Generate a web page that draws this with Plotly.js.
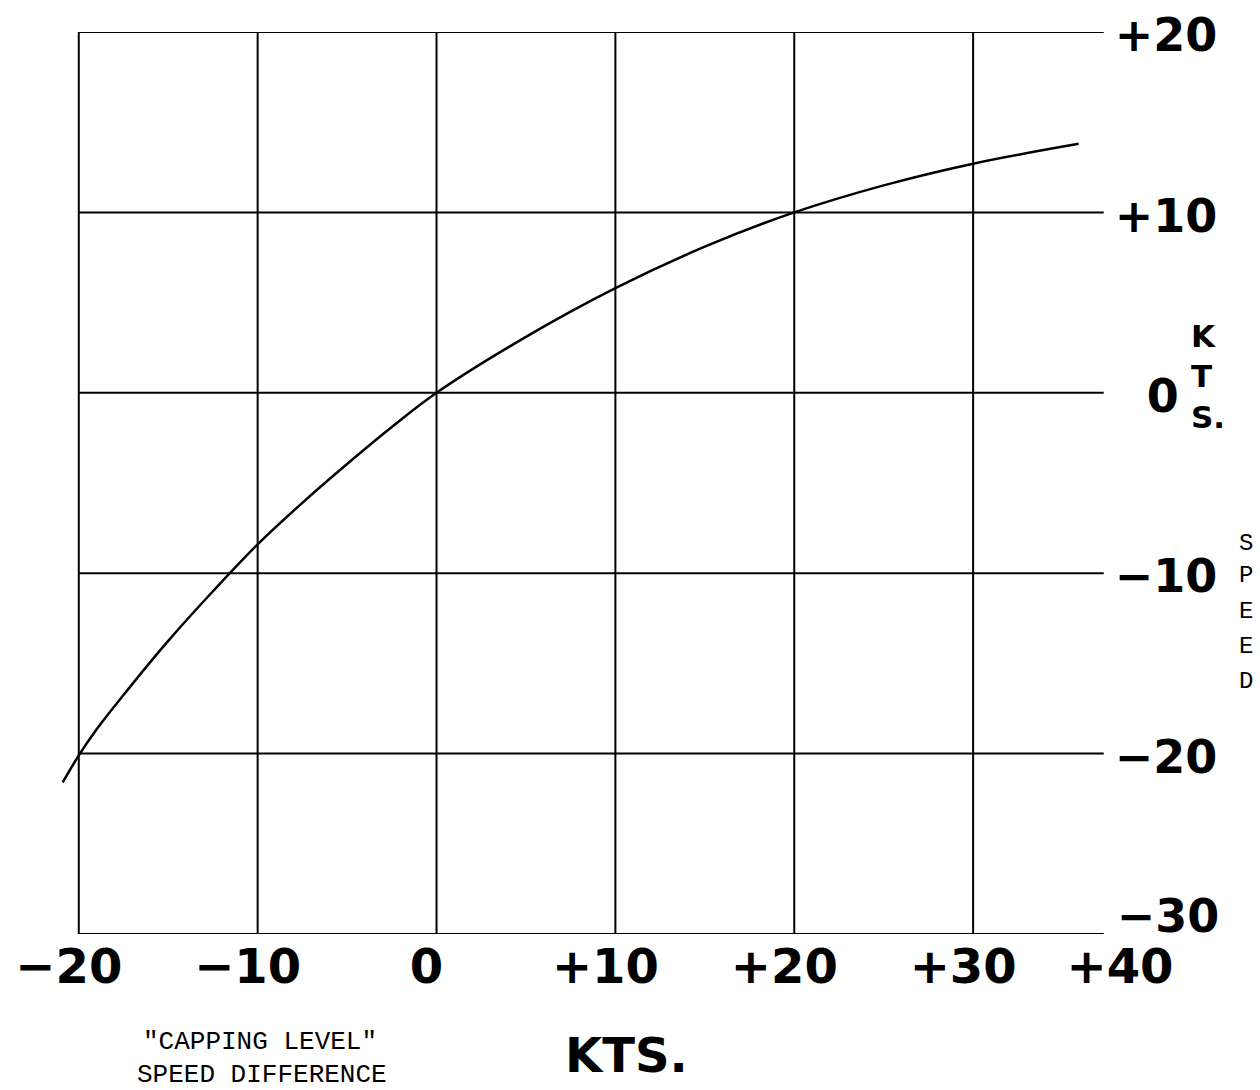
<!DOCTYPE html>
<html>
<head>
<meta charset="utf-8">
<script src="https://cdn.plot.ly/plotly-3.0.1.min.js"></script>
<style>html,body{margin:0;padding:0;background:#fff;}#chart{width:1260px;height:1090px;}</style>
</head>
<body>
<div id="chart"></div>
<script>
// ---- data ----
const capSpeed  = [-20.9, -20, -19, -17.5, -15, -12.5, -10, -7.5, -5, -2.5, 0, 5, 10, 15, 20, 25, 30, 35.9];
const speedDiff = [-21.6, -20.1, -18.65, -16.75, -13.75, -11.0, -8.4, -6.1, -3.95, -1.9, 0, 3.1, 5.8, 8.1, 10, 11.5, 12.7, 13.8];

const xTickVals = [-20, -10, 0, 10, 20, 30, 40];
const xTickText = ["−20", "−10", "0", "+10", "+20", "+30", "+40"];
const yTickVals = [-30, -20, -10, 0, 10, 20];
const yTickText = ["−30", "−20", "−10", "\u20070", "+10", "+20"];

const xGridVals = [-20, -10, 0, 10, 20, 30];
const yGridVals = [-30, -20, -10, 0, 10, 20];
const gridRightEnd = 37.3;

const xTitle = "KTS.";
const yUnitText = "K<br>T<br>S.";
const yWordLetters = ["S", "P", "E", "E", "D"];
const captionLines = ["\"CAPPING LEVEL\"", "SPEED DIFFERENCE"];

// ---- layout helpers ----
const W = 1260, H = 1090;
const M = {l: 43, r: 108, t: 32, b: 156};
const xRange = [-22, 40];
const yRange = [-30, 20];
const plotW = W - M.l - M.r, plotH = H - M.t - M.b;
const pxX = px => (px - M.l) / plotW;
const pxY = py => (H - M.b - py) / plotH;
const yAxisPos = (gridRightEnd - xRange[0]) / (xRange[1] - xRange[0]);

const lettering = {family: "DejaVu Sans, Arial, sans-serif", size: 46, color: "#000", weight: "bold"};
const xLettering = Object.assign({}, lettering, {size: 48});
const typewriter = {family: "Liberation Mono, Courier New, monospace", size: 26, color: "#000"};

const shapes = [];
xGridVals.forEach(v => shapes.push({type: "line", xref: "x", yref: "y", x0: v, x1: v, y0: yRange[0], y1: yRange[1], line: {color: "#000", width: 2}}));
yGridVals.forEach(v => shapes.push({type: "line", xref: "x", yref: "y", x0: xGridVals[0], x1: gridRightEnd, y0: v, y1: v, line: {color: "#000", width: 2}}));

const annotations = [];
annotations.push({text: xTitle, xref: "paper", yref: "paper", x: pxX(626), y: pxY(1055), showarrow: false, xanchor: "center", yanchor: "middle", font: xLettering});
annotations.push({text: yUnitText, xref: "paper", yref: "paper", x: pxX(1208), y: pxY(376), showarrow: false, xanchor: "center", yanchor: "middle", align: "left", font: Object.assign({}, lettering, {size: 31})});
const sY = [543, 576, 611, 646, 681];
yWordLetters.forEach((t, i) => annotations.push({text: t, xref: "paper", yref: "paper", x: pxX(1246), y: pxY(sY[i]), showarrow: false, xanchor: "center", yanchor: "middle", font: Object.assign({}, typewriter, {size: 24})}));
const cX = [260, 262], cY = [1042, 1075];
captionLines.forEach((t, i) => annotations.push({text: t, xref: "paper", yref: "paper", x: pxX(cX[i]), y: pxY(cY[i]), showarrow: false, xanchor: "center", yanchor: "middle", font: typewriter}));

const curve = {
  x: capSpeed, y: speedDiff, type: "scatter", mode: "lines",
  line: {color: "#000", width: 2.5, shape: "spline", smoothing: 1},
  hoverinfo: "skip", showlegend: false
};
// empty trace so the secondary label axes are drawn
const labelAxesHolder = {x: [], y: [], xaxis: "x2", yaxis: "y2", type: "scatter", mode: "lines", hoverinfo: "skip", showlegend: false};

const baseAxis = {showgrid: false, zeroline: false, showline: false, ticks: "", tickmode: "array", fixedrange: true};

const layout = {
  width: W, height: H,
  margin: M,
  paper_bgcolor: "#fff", plot_bgcolor: "rgba(0,0,0,0)",
  showlegend: false,
  xaxis: Object.assign({}, baseAxis, {
    range: xRange, tickvals: xTickVals.slice(0, 6), ticktext: xTickText.slice(0, 6),
    tickfont: xLettering, ticklabelshift: -10, ticklabelstandoff: 0
  }),
  xaxis2: Object.assign({}, baseAxis, {
    range: xRange, overlaying: "x", anchor: "y", side: "bottom",
    tickvals: xTickVals.slice(6), ticktext: xTickText.slice(6),
    tickfont: xLettering, ticklabelshift: -32, ticklabelstandoff: 0
  }),
  yaxis: Object.assign({}, baseAxis, {
    range: yRange, tickvals: yTickVals.slice(1), ticktext: yTickText.slice(1),
    side: "right", anchor: "free", position: yAxisPos,
    tickfont: lettering, ticklabelstandoff: 10, ticklabelshift: 3
  }),
  yaxis2: Object.assign({}, baseAxis, {
    range: yRange, overlaying: "y", tickvals: yTickVals.slice(0, 1), ticktext: yTickText.slice(0, 1),
    side: "right", anchor: "free", position: yAxisPos,
    tickfont: lettering, ticklabelstandoff: 12, ticklabelshift: -18
  }),
  shapes: shapes,
  annotations: annotations
};

Plotly.newPlot("chart", [curve, labelAxesHolder], layout, {displayModeBar: false, staticPlot: true});
</script>
</body>
</html>
